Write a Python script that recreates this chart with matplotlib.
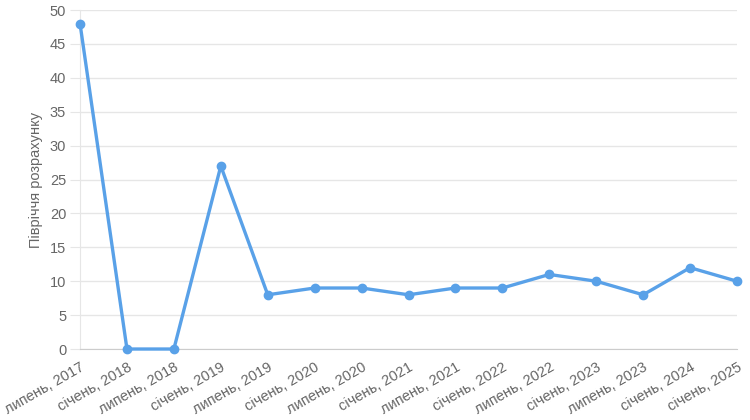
import matplotlib
matplotlib.use('Agg')
import matplotlib.pyplot as plt

plt.rcParams['font.family'] = ['Liberation Sans', 'DejaVu Sans']

# Data
periods = ['липень, 2017', 'січень, 2018', 'липень, 2018', 'січень, 2019',
           'липень, 2019', 'січень, 2020', 'липень, 2020', 'січень, 2021',
           'липень, 2021', 'січень, 2022', 'липень, 2022', 'січень, 2023',
           'липень, 2023', 'січень, 2024', 'січень, 2025']
values = [48, 0, 0, 27, 8, 9, 9, 8, 9, 9, 11, 10, 8, 12, 10]
y_ticks = [0, 5, 10, 15, 20, 25, 30, 35, 40, 45, 50]

fig = plt.figure(figsize=(7.5, 4.2), dpi=100)
ax = fig.add_axes([0.1067, 0.169, 0.876, 0.807])

x = list(range(len(periods)))
ax.plot(x, values, color='#59a1e8', linewidth=2.4, marker='o',
        markersize=6, zorder=3, clip_on=False)

ax.set_xlim(0, len(periods) - 1)
ax.set_ylim(0, 50)
ax.set_yticks(y_ticks)
ax.set_xticks(x)
ax.set_xticklabels(periods, rotation=30, ha='right', rotation_mode='anchor')

ax.grid(axis='y', color='#e6e6e6', linewidth=1)
ax.grid(axis='x', visible=False)
ax.set_axisbelow(True)

for s in ['top', 'right']:
    ax.spines[s].set_visible(False)
ax.spines['left'].set_color('#e6e6e6')
ax.spines['bottom'].set_color('#cccccc')

ax.tick_params(axis='y', length=7, color='#e6e6e6', labelsize=10.5,
               labelcolor='#666666', pad=3)
ax.tick_params(axis='x', length=0, labelsize=10.5, labelcolor='#666666', pad=8)

ax.set_ylabel('Півріччя розрахунку', color='#666666', fontsize=10.5, labelpad=5)

fig.savefig('out.png', dpi=100)
